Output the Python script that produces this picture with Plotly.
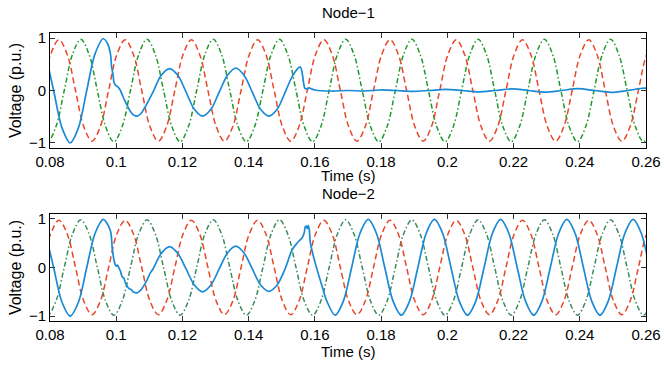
import plotly.graph_objects as go

# ---------------- data (time in ms, voltage in p.u.) ----------------
RED_T = [77.7, 80.2, 82.7, 85.2, 87.7, 90.2, 92.7, 95.2,
         97.7, 100.2, 102.7, 105.2, 107.7, 110.2, 112.7, 115.2,
         117.7, 120.2, 122.7, 125.2, 127.7, 130.2, 132.7, 135.2,
         137.7, 140.2, 142.7, 145.2, 147.7, 150.2, 152.7, 155.2,
         157.7, 160.2, 162.7, 165.2, 167.7, 170.2, 172.7, 175.2,
         177.7, 180.2, 182.7, 185.2, 187.7, 190.2, 192.7, 195.2,
         197.7, 200.2, 202.7, 205.2, 207.7, 210.2, 212.7, 215.2,
         217.7, 220.2, 222.7, 225.2, 227.7, 230.2, 232.7, 235.2,
         237.7, 240.2, 242.7, 245.2, 247.7, 250.2, 252.7, 255.2,
         257.7, 260.2, 262.7]
RED_V = [0, 0.69, 0.97, 0.69, 0, -0.69, -0.97, -0.69,
         0, 0.69, 0.97, 0.69, 0, -0.69, -0.97, -0.69,
         0, 0.69, 0.97, 0.69, 0, -0.69, -0.97, -0.69,
         0, 0.69, 0.97, 0.69, 0, -0.69, -0.97, -0.69,
         0, 0.69, 0.97, 0.69, 0, -0.69, -0.97, -0.69,
         0, 0.69, 0.97, 0.69, 0, -0.69, -0.97, -0.69,
         0, 0.69, 0.97, 0.69, 0, -0.69, -0.97, -0.69,
         0, 0.69, 0.97, 0.69, 0, -0.69, -0.97, -0.69,
         0, 0.69, 0.97, 0.69, 0, -0.69, -0.97, -0.69,
         0, 0.69, 0.97]

GREEN_T = [76.8, 79.3, 81.8, 84.3, 86.8, 89.3, 91.8, 94.3,
           96.8, 99.3, 101.8, 104.3, 106.8, 109.3, 111.8, 114.3,
           116.8, 119.3, 121.8, 124.3, 126.8, 129.3, 131.8, 134.3,
           136.8, 139.3, 141.8, 144.3, 146.8, 149.3, 151.8, 154.3,
           156.8, 159.3, 161.8, 164.3, 166.8, 169.3, 171.8, 174.3,
           176.8, 179.3, 181.8, 184.3, 186.8, 189.3, 191.8, 194.3,
           196.8, 199.3, 201.8, 204.3, 206.8, 209.3, 211.8, 214.3,
           216.8, 219.3, 221.8, 224.3, 226.8, 229.3, 231.8, 234.3,
           236.8, 239.3, 241.8, 244.3, 246.8, 249.3, 251.8, 254.3,
           256.8, 259.3, 261.8]
GREEN_V = [-0.69, -0.98, -0.69, 0, 0.69, 0.98, 0.69, 0,
           -0.69, -0.98, -0.69, 0, 0.69, 0.98, 0.69, 0,
           -0.69, -0.98, -0.69, 0, 0.69, 0.98, 0.69, 0,
           -0.69, -0.98, -0.69, 0, 0.69, 0.98, 0.69, 0,
           -0.69, -0.98, -0.69, 0, 0.69, 0.98, 0.69, 0,
           -0.69, -0.98, -0.69, 0, 0.69, 0.98, 0.69, 0,
           -0.69, -0.98, -0.69, 0, 0.69, 0.98, 0.69, 0,
           -0.69, -0.98, -0.69, 0, 0.69, 0.98, 0.69, 0,
           -0.69, -0.98, -0.69, 0, 0.69, 0.98, 0.69, 0,
           -0.69, -0.98, -0.69]

BLUE1_T = [78.6, 81.1, 83.6, 86.1, 88.6, 91.1, 93.6, 96.1,
           97.5, 98.3, 98.6, 99.0, 99.4, 100.0, 100.5, 101.2,
           102.0, 102.8, 104.3, 105.5, 106.3, 107.5, 108.6, 111.1,
           113.6, 116.1, 118.6, 121.1, 123.6, 126.1, 128.6, 131.1,
           133.6, 136.1, 138.6, 141.1, 143.6, 146.1, 148.6, 151.1,
           153.1, 154.8, 155.6, 156.1, 156.6, 157.0, 157.6, 158.3,
           159.0, 160.0, 165.0, 170.0, 175.0, 179.5, 184.5, 189.5,
           194.5, 199.5, 204.5, 209.5, 214.5, 219.5, 224.5, 229.5,
           234.5, 239.5, 244.5, 249.5, 254.5, 259.5, 262.0]
BLUE1_V = [0.71, 0.0, -0.71, -1.0, -0.71, 0.0, 0.70, 0.99,
           0.88, 0.68, 0.45, 0.32, 0.14, 0.09, 0.07, 0.01,
           -0.11, -0.22, -0.40, -0.48, -0.49, -0.44, -0.33, -0.03,
           0.29, 0.42, 0.29, -0.03, -0.36, -0.49, -0.36, -0.03,
           0.29, 0.43, 0.29, -0.03, -0.36, -0.49, -0.36, -0.02,
           0.26, 0.42, 0.45, 0.36, 0.14, 0.04, 0.03, 0.05,
           0.03, 0.01, -0.01, 0.0, -0.01, 0.01, 0.0, -0.015,
           0.0, 0.02, 0.0, -0.025, 0.0, 0.03, 0.0, -0.03,
           0.0, 0.035, 0.0, -0.035, 0.0, 0.045, 0.03]

BLUE2_T = [78.6, 81.1, 83.6, 86.1, 88.6, 91.1, 93.6, 96.1,
           97.0, 98.3, 98.8, 99.3, 99.7, 100.0, 100.4, 100.8,
           101.3, 101.8, 102.3, 102.8, 103.8, 104.5, 105.3, 106.3,
           107.0, 107.8, 109.3, 110.3, 111.1, 113.6, 116.1, 118.6,
           121.1, 123.6, 126.1, 128.6, 131.1, 133.6, 136.1, 138.6,
           141.1, 143.6, 146.1, 148.6, 151.1, 153.1, 154.6, 155.6,
           156.3, 156.8, 157.1, 157.4, 157.7, 158.0, 158.3, 158.6,
           159.1, 160.1, 162.2, 163.6, 166.1, 168.6, 171.1, 173.6,
           176.1, 178.6, 181.1, 183.6, 186.1, 188.6, 191.1, 193.6,
           196.1, 198.6, 201.1, 203.6, 206.1, 208.6, 211.1, 213.6,
           216.1, 218.6, 221.1, 223.6, 226.1, 228.6, 231.1, 233.6,
           236.1, 238.6, 241.1, 243.6, 246.1, 248.6, 251.1, 253.6,
           256.1, 258.6, 261.1, 263.6]
BLUE2_V = [0.71, 0.0, -0.71, -1.0, -0.71, 0.0, 0.70, 0.99,
           0.93, 0.74, 0.40, 0.16, 0.06, 0.03, 0.05, -0.01,
           -0.08, -0.19, -0.22, -0.32, -0.43, -0.45, -0.51, -0.52,
           -0.49, -0.43, -0.26, -0.11, -0.03, 0.29, 0.43, 0.29,
           -0.03, -0.36, -0.50, -0.36, -0.03, 0.30, 0.44, 0.30,
           -0.03, -0.36, -0.49, -0.36, -0.01, 0.36, 0.50, 0.57,
           0.63, 0.72, 0.84, 0.85, 0.80, 0.86, 0.78, 0.52,
           0.36, 0.09, -0.39, -0.69, -0.98, -0.69, 0.0, 0.70,
           0.99, 0.70, 0.0, -0.69, -0.98, -0.69, 0.0, 0.70,
           0.99, 0.70, 0.0, -0.69, -0.98, -0.69, 0.0, 0.70,
           0.99, 0.70, 0.0, -0.69, -0.98, -0.69, 0.0, 0.70,
           0.99, 0.70, 0.0, -0.69, -0.98, -0.69, 0.0, 0.70,
           0.99, 0.70, 0.0, -0.69]

X_TICKS = [0.08, 0.1, 0.12, 0.14, 0.16, 0.18, 0.2, 0.22, 0.24, 0.26]
Y_TICKS = [-1, 0, 1]
TITLES = ["Node\u22121", "Node\u22122"]
X_LABEL = "Time (s)"
Y_LABEL = "Voltage (p.u.)"

# ---------------- styles ----------------
BLUE = "#1a8ad6"
RED = "#e8462a"
GREEN1 = "#1f9a2a"
GREEN2 = "#3a8a5c"
FONT = "Liberation Sans, Arial, Helvetica, sans-serif"


def sec(ms):
    return [t / 1000.0 for t in ms]


fig = go.Figure()
panels = [("x", "y", BLUE1_T, BLUE1_V, GREEN1), ("x2", "y2", BLUE2_T, BLUE2_V, GREEN2)]
for xa, ya, bt, bv, gc in panels:
    fig.add_trace(go.Scatter(x=sec(GREEN_T), y=GREEN_V, xaxis=xa, yaxis=ya, mode="lines",
                             line=dict(color=gc, width=1.5, dash="5px,2.5px,1.5px,2.5px",
                                       shape="spline", smoothing=1.0),
                             showlegend=False, hoverinfo="skip"))
    fig.add_trace(go.Scatter(x=sec(RED_T), y=RED_V, xaxis=xa, yaxis=ya, mode="lines",
                             line=dict(color=RED, width=1.5, dash="6px,3.5px",
                                       shape="spline", smoothing=1.0),
                             showlegend=False, hoverinfo="skip"))
    fig.add_trace(go.Scatter(x=sec(bt), y=bv, xaxis=xa, yaxis=ya, mode="lines",
                             line=dict(color=BLUE, width=1.7, shape="spline", smoothing=0.9),
                             showlegend=False, hoverinfo="skip"))

axis_common = dict(showline=True, linecolor="black", linewidth=1, mirror="allticks",
                   ticks="inside", ticklen=5, tickcolor="#333", showgrid=False,
                   zeroline=False, automargin=False,
                   tickfont=dict(family=FONT, size=15, color="black"))

top_dom = [0.6007, 1.0]
bot_dom = [0.0, 0.3715]

fig.update_layout(
    width=664, height=365,
    margin=dict(l=50, r=18, t=33, b=44),
    paper_bgcolor="white", plot_bgcolor="white",
    font=dict(family=FONT, size=15, color="black"),
    xaxis=dict(domain=[0, 1], anchor="y", range=[0.08, 0.26], tickvals=X_TICKS, **axis_common),
    yaxis=dict(domain=top_dom, anchor="x", range=[-1.1, 1.1], tickvals=Y_TICKS,
               title=dict(text=Y_LABEL, standoff=3, font=dict(size=16)), **axis_common),
    xaxis2=dict(domain=[0, 1], anchor="y2", range=[0.08, 0.26], tickvals=X_TICKS, **axis_common),
    yaxis2=dict(domain=bot_dom, anchor="x2", range=[-1.1, 1.1], tickvals=Y_TICKS,
                title=dict(text=Y_LABEL, standoff=3, font=dict(size=16)), **axis_common),
    annotations=[
        dict(text=TITLES[0], x=0.5, y=1.0712, xref="paper", yref="paper",
             xanchor="center", yanchor="middle", showarrow=False, font=dict(size=15)),
        dict(text=TITLES[1], x=0.5, y=0.441, xref="paper", yref="paper",
             xanchor="center", yanchor="middle", showarrow=False, font=dict(size=15)),
        dict(text=X_LABEL, x=0.5, y=0.505, xref="paper", yref="paper",
             xanchor="center", yanchor="middle", showarrow=False, font=dict(size=15)),
        dict(text=X_LABEL, x=0.5, y=-0.1076, xref="paper", yref="paper",
             xanchor="center", yanchor="middle", showarrow=False, font=dict(size=15)),
    ],
)

fig.write_html("out.html", config={"displayModeBar": False},
               post_script="document.body.style.margin='0px';document.body.style.padding='0px';")
